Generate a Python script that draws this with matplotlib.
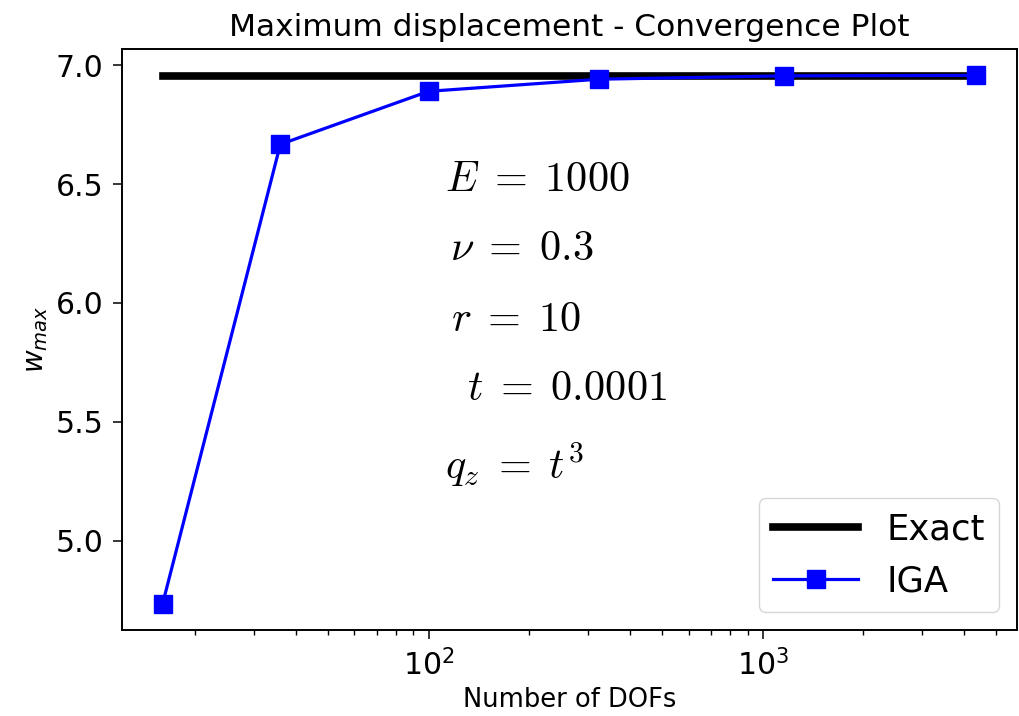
import numpy as np
import matplotlib
matplotlib.use("Agg")
import matplotlib.pyplot as plt

plt.rcParams['mathtext.fontset'] = 'cm'

# Convergence data: number of DOFs vs max deflection
dofs = [16, 36, 100, 324, 1156, 4356]
w_iga = [4.735, 6.667, 6.890, 6.941, 6.955, 6.957]

# Simply supported circular plate, uniform load q = t^3
E = 1000.0
nu = 0.3
r = 10.0
t = 0.0001
q = t**3
D = E * t**3 / (12 * (1 - nu**2))
w_exact = q * r**4 / (64 * D) * (5 + nu) / (1 + nu)

fig = plt.figure(figsize=(10.2, 7.16), dpi=100)
ax = fig.add_axes([0.1196, 0.1201, 0.8775, 0.8115])

ax.plot([dofs[0], dofs[-1]], [w_exact, w_exact], 'k-', linewidth=5.5, label='Exact')
ax.plot(dofs, w_iga, 'b-s', linewidth=2.3, markersize=13, label='IGA')
ax.set_xscale('log')

ax.set_title('Maximum displacement - Convergence Plot', fontsize=22.5, pad=9)
ax.set_xlabel('Number of DOFs', fontsize=18.5)
ax.set_ylabel(r'$w_{max}$', fontsize=20, math_fontfamily='dejavusans')
ax.tick_params(axis='both', which='major', labelsize=21.5, length=6.5, width=1.1, pad=7)
ax.tick_params(axis='x', which='minor', length=3.5, width=1.0)
for s in ax.spines.values():
    s.set_linewidth(1.4)

fs = 30.5
ax.text(0.361, 0.777, r'$E \;=\; 1000$', transform=ax.transAxes, fontsize=fs, va='center')
ax.text(0.366, 0.658, r'$\nu \;=\; 0.3$', transform=ax.transAxes, fontsize=fs, va='center')
ax.text(0.368, 0.536, r'$r \;=\; 10$', transform=ax.transAxes, fontsize=fs, va='center')
ax.text(0.385, 0.416, r'$t \;=\; 0.0001$', transform=ax.transAxes, fontsize=fs, va='center')
ax.text(0.361, 0.284, r'$q_z \;=\; t^3$', transform=ax.transAxes, fontsize=fs, va='center')

ax.legend(loc='lower right', fontsize=25.5, handlelength=2.4)

fig.savefig('out.png', dpi=100)
